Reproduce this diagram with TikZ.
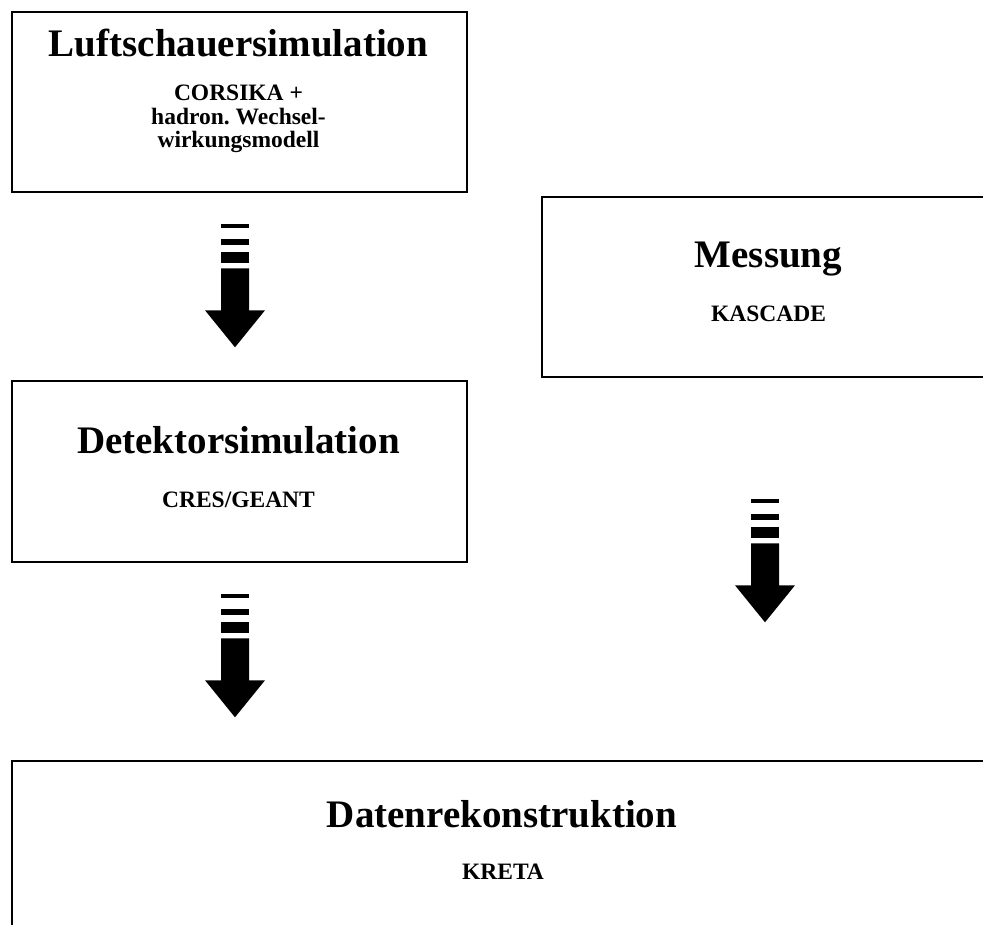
\documentclass[tikz,border=0pt]{standalone}
\usepackage{fontspec}
\setmainfont{Liberation Serif}
\frenchspacing
\begin{document}
\begin{tikzpicture}[x=1pt,y=-1pt,
  box/.style={draw=black, line width=1.6pt, rectangle, anchor=north west, inner sep=0pt},
  titletext/.style={font=\fontsize{39}{39}\selectfont\bfseries, anchor=base, inner sep=0pt},
  subtext/.style={font=\fontsize{23.5}{23.5}\selectfont\bfseries, anchor=base, inner sep=0pt, align=center},
  flowarrow/.pic={
    \fill[black] (-14,0) rectangle (14,4);
    \fill[black] (-14,15) rectangle (14,21);
    \fill[black] (-14,28) rectangle (14,39);
    \fill[black] (-14,44) -- (14,44) -- (14,86) -- (30,86) -- (0,123) -- (-30,86) -- (-14,86) -- cycle;
  }]
\useasboundingbox (0,0) rectangle (983,925);
\clip (0,0) rectangle (983,925);
% boxes
\node[box, minimum width=455pt, minimum height=180pt] (luft) at (11,11) {};
\node[box, minimum width=455pt, minimum height=180pt] (mess) at (541,196) {};
\node[box, minimum width=455pt, minimum height=181pt] (det) at (11,380) {};
\node[box, minimum width=982pt, minimum height=180pt] (daten) at (11,760) {};
% texts
\node[titletext] (luftT) at (238.5,57) {Luftschauersimulation};
\node[subtext] (luftS) at (238.5,148) {CORSIKA +\\hadron. Wechsel-\\wirkungsmodell};
\node[titletext] (messT) at (768.5,268) {Messung};
\node[subtext] (messS) at (768.5,322) {KASCADE};
\node[titletext] (detT) at (238.5,453) {Detektorsimulation};
\node[subtext] (detS) at (238.5,507) {CRES/GEANT};
\node[titletext] (datT) at (502,827) {Datenrekonstruktion};
\node[subtext] (datS) at (503,879) {KRETA};
% arrows
\coordinate (a1) at (235,224.3);
\coordinate (a2) at (235,594.3);
\coordinate (a3) at (765,499.3);
\pic at (a1) {flowarrow};
\pic at (a2) {flowarrow};
\pic at (a3) {flowarrow};
\end{tikzpicture}
\end{document}
